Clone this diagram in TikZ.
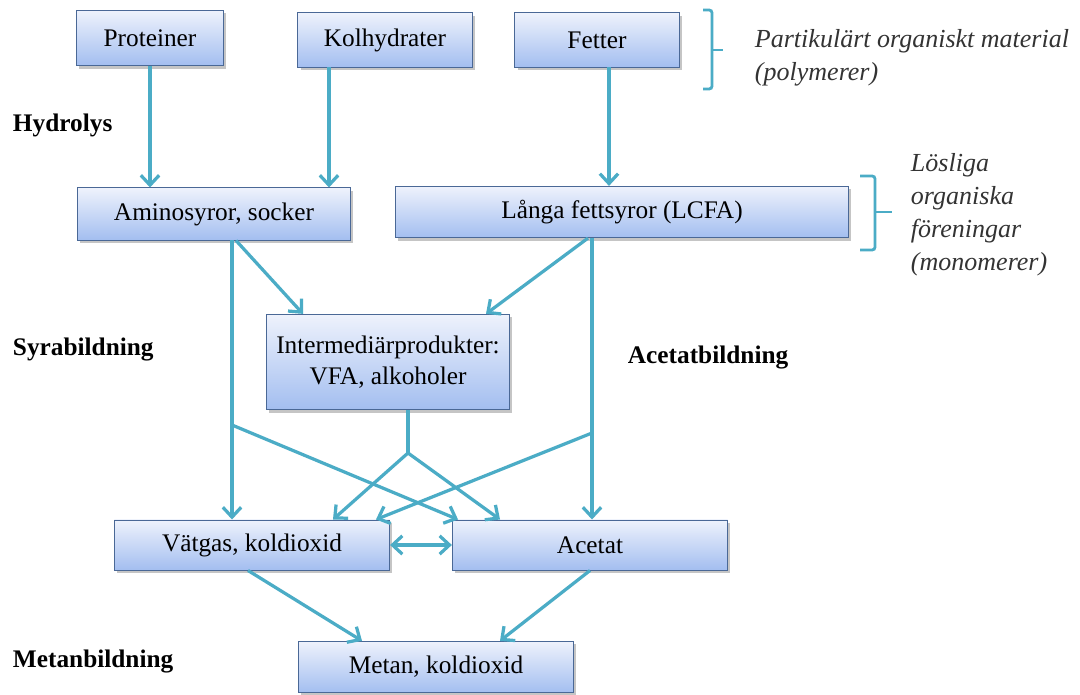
\documentclass[tikz,border=0pt]{standalone}
\usepackage{fontspec}
\setmainfont{Liberation Serif}
\usetikzlibrary{arrows.meta,shadows}
\definecolor{flow}{HTML}{4BACC6}
\definecolor{boxline}{HTML}{4A6896}
\definecolor{boxtop}{HTML}{EEF2FC}
\definecolor{boxbottom}{HTML}{A3BEF0}

\begin{document}
\begin{tikzpicture}[x=0.025cm,y=-0.025cm,>={Straight Barb[length=7pt,width=13pt]}]
   \useasboundingbox[fill=white] (0,0) rectangle (1080,695);
   \tikzstyle{main}=[rectangle, draw=boxline, line width=0.7pt, top color=boxtop, bottom color=boxbottom, inner sep=0pt, align=center, font=\fontsize{18}{22}\selectfont, drop shadow={shadow xshift=1.8pt, shadow yshift=-2.2pt, fill=black!45, opacity=0.5}]
   \tikzstyle{flowline}=[draw=flow, line width=2.3pt]
   \tikzstyle{stage}=[anchor=west, font=\fontsize{18}{22}\selectfont\bfseries]
   \tikzstyle{note}=[anchor=west, align=left, font=\fontsize{18.5}{23.5}\selectfont\itshape, text=black!80]
   % polymerer
   \node[main, minimum width=3.68cm, minimum height=1.38cm] (proteiner) at (150,38) {Proteiner};
   \node[main, minimum width=4.35cm, minimum height=1.35cm] (kolhydrater) at (385,40) {Kolhydrater};
   \node[main, minimum width=4.1cm, minimum height=1.35cm] (fetter) at (597,40) {Fetter};
   % monomerer
   \node[main, minimum width=6.8cm, minimum height=1.3cm] (aminosyror) at (214,214) {Aminosyror, socker};
   \node[main, minimum width=11.3cm, minimum height=1.28cm] (lcfa) at (622,212) {Långa fettsyror (LCFA)};
   \node[main, minimum width=6.08cm, minimum height=2.38cm] (intermed) at (388,362) {Intermediärprodukter:\\VFA, alkoholer};
   \node[main, minimum width=6.88cm, minimum height=1.25cm] (vatgas) at (252,545) {Vätgas, koldioxid};
   \node[main, minimum width=6.88cm, minimum height=1.25cm] (acetat) at (590,545) {Acetat};
   \node[main, minimum width=6.88cm, minimum height=1.28cm] (metan) at (436,667) {Metan, koldioxid};
   % steg
   \node[stage] (hydrolys) at (8,125) {Hydrolys};
   \node[stage] (syra) at (8,350) {Syrabildning};
   \node[stage] (acetatbild) at (623,358) {Acetatbildning};
   \node[stage] (metanbild) at (8,662) {Metanbildning};
   \node[note] (partikel) at (750,58) {Partikulärt organiskt material\\(polymerer)};
   \node[note] (losliga) at (906,215) {Lösliga\\organiska\\föreningar\\(monomerer)};
   % klamrar
   \draw[flowline, line width=2pt, rounded corners=2pt] (703,10) -- (712,10) -- (712,89) -- (703,89);
   \draw[flowline, line width=2pt] (712,50) -- (723,50);
   \draw[flowline, line width=2pt, rounded corners=2pt] (860,176) -- (875,176) -- (875,250) -- (860,250);
   \draw[flowline, line width=2pt] (875,212) -- (892,212);
   % hydrolys
   \draw[flowline, ->] (proteiner.south) -- (proteiner.south |- aminosyror.north);
   \draw[flowline, ->] (kolhydrater.south -| 329,0) -- (aminosyror.north -| 329,0);
   \draw[flowline, ->] (fetter.south -| 609,0) -- (lcfa.north -| 609,0);
   % syra- och acetatbildning
   \coordinate (leftjoin) at (232,425);
   \coordinate (rightjoin) at (592,433);
   \coordinate (split) at (408,453);
   \draw[flowline, ->] (aminosyror.south -| leftjoin) -- (vatgas.north -| leftjoin);
   \draw[flowline, ->] (aminosyror.south -| 236,0) -- (intermed.north -| 303,0);
   \draw[flowline, ->] (lcfa.south -| 588,0) -- (intermed.north -| 486,0);
   \draw[flowline, ->] (lcfa.south -| rightjoin) -- (acetat.north -| rightjoin);
   \draw[flowline] (intermed.south -| split) -- (split);
   \draw[flowline, ->] (split) -- (vatgas.north -| 333,0);
   \draw[flowline, ->] (split) -- (acetat.north -| 500,0);
   \draw[flowline, ->] (leftjoin) -- (acetat.north -| 458,0);
   \draw[flowline, ->] (rightjoin) -- (vatgas.north -| 376,0);
   \draw[flowline, <->] (vatgas.east) -- (acetat.west);
   % metanbildning
   \draw[flowline, ->] (vatgas.south -| 248,0) -- (metan.north -| 362,0);
   \draw[flowline, ->] (acetat.south -| 590,0) -- (metan.north -| 500,0);
\end{tikzpicture}
\end{document}
